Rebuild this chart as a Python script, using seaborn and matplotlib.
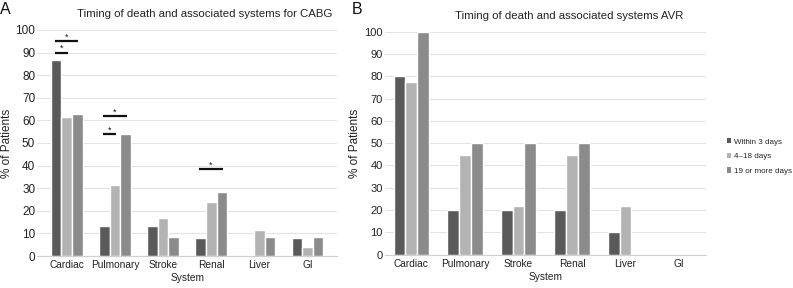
import pandas as pd
import numpy as np
import matplotlib
matplotlib.use("Agg")
import matplotlib.pyplot as plt
import seaborn as sns

systems = ["Cardiac", "Pulmonary", "Stroke", "Renal", "Liver", "GI"]
timings = ["Within 3 days", "4\u201318 days", "19 or more days"]

# % of patients, CABG (panel A)
cabg_within3 = [86.5, 13.5, 13.5, 8, 0, 8]
cabg_4to18 = [61.5, 31.5, 17, 24, 11.5, 4]
cabg_19plus = [63, 54, 8.5, 28.5, 8.5, 8.5]

# % of patients, AVR (panel B)
avr_within3 = [80, 20, 20, 20, 10, 0]
avr_4to18 = [77.5, 44.5, 22, 44.5, 22, 0]
avr_19plus = [100, 50, 50, 50, 0, 0]

# significance brackets on CABG panel: system, first timing, second timing, height
sig_system = ["Cardiac", "Cardiac", "Pulmonary", "Pulmonary", "Renal"]
sig_from = [0, 0, 0, 0, 0]
sig_to = [1, 2, 1, 2, 2]
sig_level = [90, 95, 54, 62, 38.5]

colors = ["#5a5a5a", "#b3b3b3", "#8b8b8b"]


def long_form(a, b, c):
    rows = []
    for vals, t in zip([a, b, c], timings):
        for s, v in zip(systems, vals):
            rows.append({"System": s, "Timing": t, "pct": v})
    return pd.DataFrame(rows)


df_a = long_form(cabg_within3, cabg_4to18, cabg_19plus)
df_b = long_form(avr_within3, avr_4to18, avr_19plus)

sns.set_style("white")
plt.rcParams["font.family"] = ["Liberation Sans", "DejaVu Sans"]

fig = plt.figure(figsize=(7.93, 2.88), dpi=100)
ax_a = fig.add_axes([0.047, 0.111, 0.378, 0.785])
ax_b = fig.add_axes([0.485, 0.116, 0.405, 0.774])


def style(ax, title, title_x):
    ax.set_ylim(0, 100)
    ax.set_yticks(np.arange(0, 101, 10))
    ax.yaxis.grid(True, color="#e3e3e3", linewidth=0.8)
    ax.set_axisbelow(True)
    for sp in ["top", "right", "left"]:
        ax.spines[sp].set_visible(False)
    ax.spines["bottom"].set_color("#d0d0d0")
    ax.spines["bottom"].set_linewidth(0.8)
    ax.tick_params(axis="both", length=0, colors="#222222")
    ax.tick_params(axis="y", labelsize=8.5, pad=1.5)
    ax.tick_params(axis="x", labelsize=7.3, pad=3)
    ax.set_xlabel("System", fontsize=7.3, labelpad=2, color="#222222")
    ax.set_ylabel("% of Patients", fontsize=8.5, labelpad=2, color="#222222")
    ax.set_title(title, fontsize=8.2, color="#222222", pad=9, x=title_x)


sns.barplot(data=df_a, x="System", y="pct", hue="Timing", order=systems,
            hue_order=timings, palette=colors, width=0.66, saturation=1,
            ax=ax_a, legend=False)
sns.barplot(data=df_b, x="System", y="pct", hue="Timing", order=systems,
            hue_order=timings, palette=colors, width=0.66, saturation=1,
            ax=ax_b)

style(ax_a, "Timing of death and associated systems for CABG", 0.56)
style(ax_b, "Timing of death and associated systems AVR", 0.575)
ax_b.tick_params(axis="y", labelsize=8)

# significance lines with stars
for s, i, j, lvl in zip(sig_system, sig_from, sig_to, sig_level):
    k = systems.index(s)
    bi = ax_a.containers[i][k]
    bj = ax_a.containers[j][k]
    x0 = bi.get_x() + bi.get_width() * 0.35
    x1 = bj.get_x() + bj.get_width() * 0.6
    ax_a.plot([x0, x1], [lvl, lvl], color="#111111", linewidth=1.6,
              solid_capstyle="butt", clip_on=False)
    ax_a.text((x0 + x1) / 2, lvl + 0.7, "*", ha="center", va="baseline",
              fontsize=6.5, color="#111111")

leg = ax_b.legend(loc="center left", bbox_to_anchor=(1.055, 0.44), frameon=False,
                  fontsize=5.8, handlelength=0.6, handleheight=0.6,
                  handletextpad=0.3, labelspacing=0.9, borderaxespad=0)
for h in leg.legend_handles:
    h.set_linewidth(0)

fig.text(0.0, 0.95, "A", fontsize=11.5, color="#111111")
fig.text(0.443, 0.95, "B", fontsize=11.5, color="#111111")

fig.savefig("out.png", dpi=100)
